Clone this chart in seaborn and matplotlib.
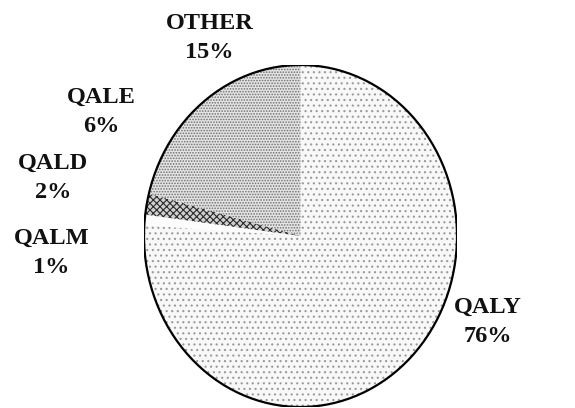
import matplotlib
matplotlib.use("Agg")
import matplotlib.pyplot as plt
import seaborn as sns
from matplotlib.patches import Ellipse

sns.set_theme(style="white")
plt.rcParams['font.family'] = ['Liberation Serif', 'DejaVu Serif']
plt.rcParams['hatch.linewidth'] = 0.8

categories = ["QALY", "QALM", "QALD", "QALE", "OTHER"]
shares = [76, 1, 2, 6, 15]
pct_labels = ["76%", "1%", "2%", "6%", "15%"]

face = ["#f8f8f8", "#fcfcfc", "#cfcfcf", "#e4e4e4", "#e4e4e4"]
hatch_col = ["#9a9a9a", "#d0d0d0", "#2a2a2a", "#707070", "#707070"]
hatches = ["...", "", "xxxxx", "......", "......"]
label_pos = {"QALY": (1.20, -0.50), "QALM": (-1.59, -0.10), "QALD": (-1.58, 0.34),
             "QALE": (-1.27, 0.725), "OTHER": (-0.58, 1.158)}

fig = plt.figure(figsize=(5.75, 4.08), dpi=100)
ax = fig.add_axes([144/575, 1 - 407/408, 313/575, 342/408])
wedges, _ = ax.pie(shares, startangle=90, counterclock=False, radius=1.0,
                   wedgeprops=dict(linewidth=0))
for w, fc, hc, h in zip(wedges, face, hatch_col, hatches):
    w.set_facecolor(fc)
    w.set_edgecolor(hc)
    w.set_hatch(h)
    w.set_linewidth(0)
ax.add_patch(Ellipse((0, 0), 2, 2, fill=False, edgecolor="black", linewidth=1.6))
ax.set_aspect('auto')
ax.set_xlim(-1.0, 1.0)
ax.set_ylim(-1.0, 1.0)
ax.axis('off')

for cat, pl in zip(categories, pct_labels):
    x, y = label_pos[cat]
    ax.text(x, y, f"{cat}\n{pl}", ha="center", va="center", fontsize=17.5,
            fontweight="bold", linespacing=1.5, color="#111111", clip_on=False)

fig.savefig("out.png", dpi=100)
